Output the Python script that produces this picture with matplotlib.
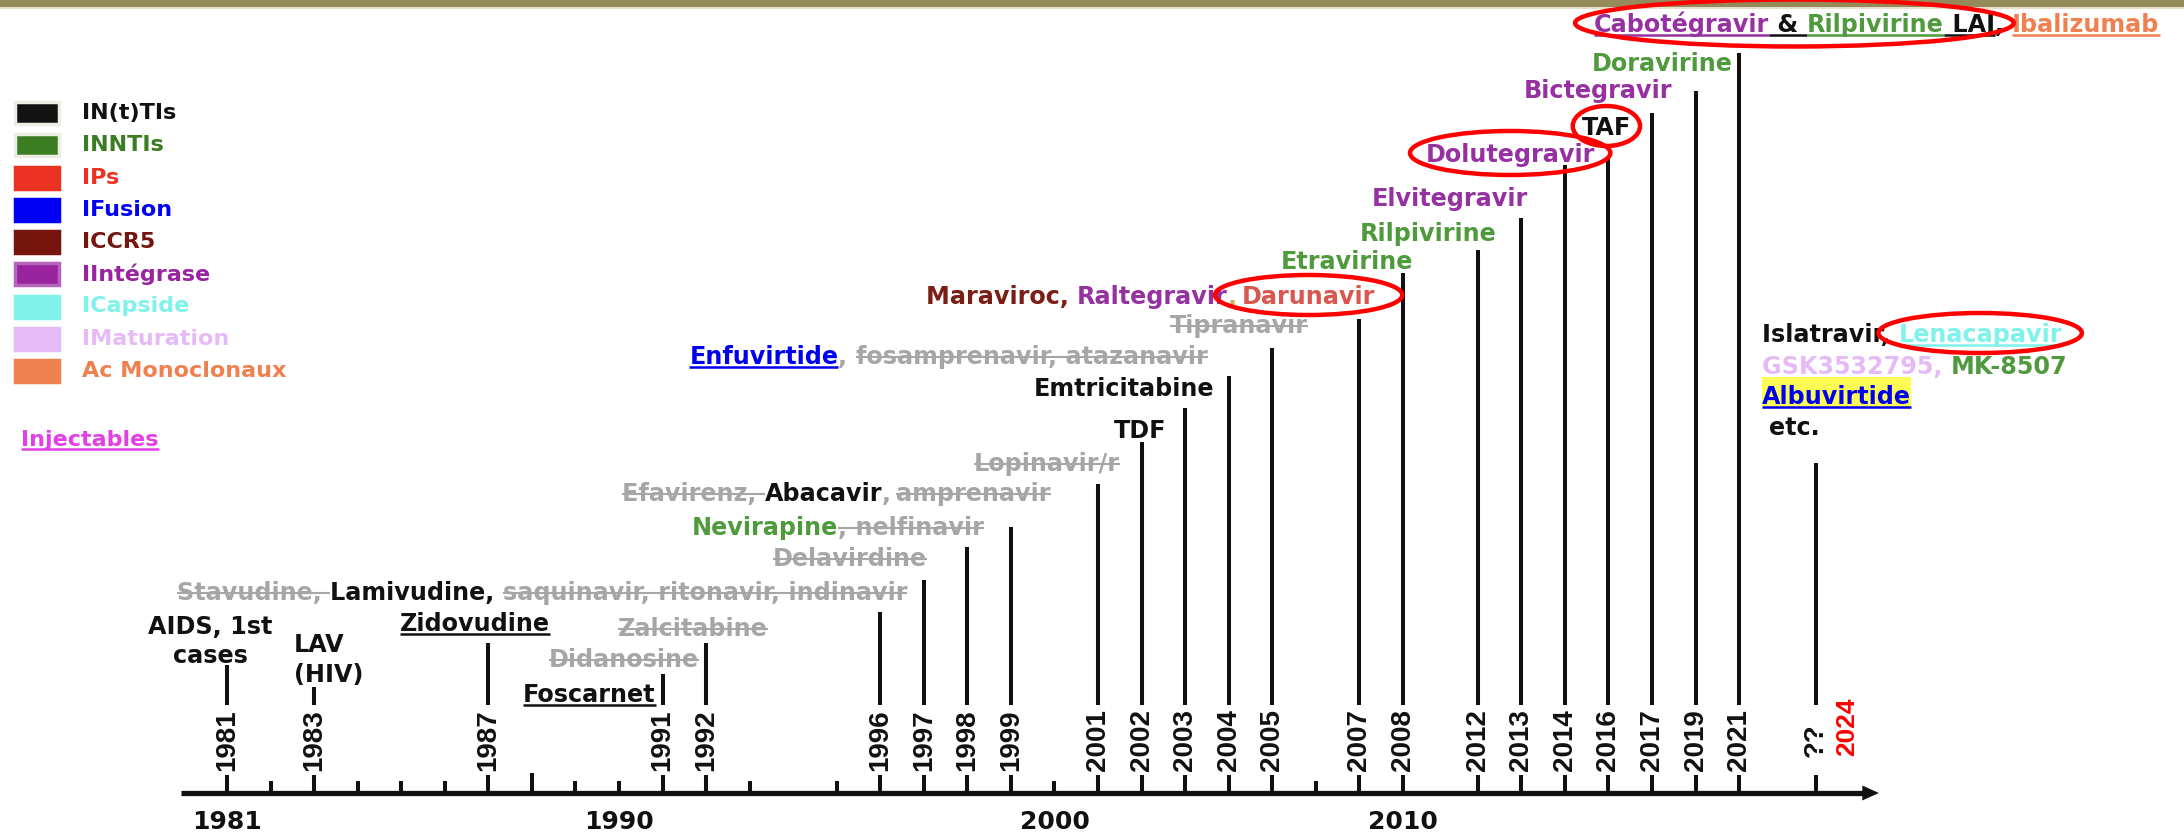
import matplotlib
matplotlib.use("Agg")
import matplotlib.pyplot as plt
from matplotlib.lines import Line2D
from matplotlib.patches import Ellipse, Rectangle, Polygon
from matplotlib.transforms import IdentityTransform

W, H = 2184, 836
MAIN = ["DejaVu Sans"]
ARIAL = ["Liberation Sans", "DejaVu Sans"]
LABEL_SIZE = 17.2

# colours
INK = "#111111"
GREY = "#A6A6A6"
GREEN = "#4F9A3D"
PURPLE = "#9631A1"
BLUE = "#0000F0"
DKRED = "#7A1E16"
CYAN = "#7FF3EA"
LILAC = "#E6BAF7"
ORANGE = "#EF8150"
OLIVE = "#C9B458"
SALMON = "#D9574E"

# legend
legend_labels = ["IN(t)TIs", "INNTIs", "IPs", "IFusion", "ICCR5", "IIntégrase",
                 "ICapside", "IMaturation", "Ac Monoclonaux"]
legend_colors = ["#121212", "#3A7D22", "#EA3323", "#0000F5", "#76140E", "#9A23A0",
                 "#7FF3EA", "#E6BAF7", "#EF8150"]
legend_text_colors = [INK, "#3A7D22", "#EA3323", "#0000F5", "#76140E", "#9A23A0",
                      "#7FF3EA", "#E6BAF7", "#EF8150"]
legend_edges = ["#EEEDE5", "#EEEDE5", None, None, None, "#B565BC", None, None, None]

# timeline events
event_years = ["1981", "1983", "1987", "1991", "1992", "1996", "1997", "1998", "1999",
               "2001", "2002", "2003", "2004", "2005", "2007", "2008", "2012", "2013",
               "2014", "2016", "2017", "2019", "2021", "??"]
stem_height = [128, 106, 150, 119, 150, 181, 213, 246, 266, 309, 351, 385, 417, 445,
               474, 520, 543, 575, 628, 636, 680, 702, 740, 330]
minor_years = [1982, 1984, 1985, 1986, 1988, 1989, 1990, 1993, 1995, 2000, 2006]
decade_text = ["1981", "1990", "2000", "2010"]
decade_year = [1981, 1990, 2000, 2008]

# label lines: (segments, alignment, dx, dy) ; segment = (text, colour, style)
labels = {
    "1981": [([("AIDS, 1st", INK, "")], "center", -17, -40),
             ([("cases", INK, "")], "center", -17, -11)],
    "1983": [([("LAV", INK, "")], "left", -20, -44),
             ([("(HIV)", INK, "")], "left", -20, -14)],
    "1987": [([("Zidovudine", INK, "u")], "center", -13, -21)],
    "1991": [([("Foscarnet", INK, "u")], "right", -7, 19)],
    "1992": [([("Didanosine", GREY, "s")], "right", -7, 15),
             ([("Zalcitabine", GREY, "s")], "center", -13, -16)],
    "1996": [([("Stavudine, ", GREY, "s"), ("Lamivudine, ", INK, ""),
               ("saquinavir, ritonavir, indinavir", GREY, "s")], "right", 27, -21)],
    "1997": [([("Delavirdine", GREY, "s")], "right", 3, -23)],
    "1998": [([("Nevirapine", GREEN, ""), (", nelfinavir", GREY, "s")], "right", 17, -21)],
    "1999": [([("Efavirenz, ", GREY, "s"), ("Abacavir", INK, ""), (", ", GREY, ""),
               ("amprenavir", GREY, "s")], "right", 40, -35)],
    "2001": [([("Lopinavir/r", GREY, "s")], "right", 22, -22)],
    "2002": [([("TDF", INK, "")], "center", -1, -13)],
    "2003": [([("Emtricitabine", INK, "")], "right", 29, -21)],
    "2004": [([("Enfuvirtide", BLUE, "u"), (", ", GREY, ""),
               ("fosamprenavir, atazanavir", GREY, "s")], "right", -21, -21)],
    "2005": [([("Tipranavir", GREY, "s")], "right", 36, -24)],
    "2007": [([("Maraviroc, ", DKRED, ""), ("Raltegravir", PURPLE, ""), (", ", OLIVE, ""),
               ("Darunavir", SALMON, "")], "right", 16, -24)],
    "2008": [([("Etravirine", GREEN, "")], "right", 10, -13)],
    "2012": [([("Rilpivirine", GREEN, "")], "right", 19, -18)],
    "2013": [([("Elvitegravir", PURPLE, "")], "right", 7, -21)],
    "2014": [([("Dolutegravir", PURPLE, "")], "right", 30, -12)],
    "2016": [([("TAF", INK, "")], "center", -2, -31)],
    "2017": [([("Bictegravir", PURPLE, "")], "right", 20, -24)],
    "2019": [([("Doravirine", GREEN, "")], "right", 37, -29)],
    "2021": [([("Cabotégravir", PURPLE, "u"), (" & ", INK, "u"), ("Rilpivirine", GREEN, "u"),
               (" LAI", INK, "u"), (", ", INK, ""), ("Ibalizumab", ORANGE, "u")],
              "left", -145, -30)],
    "??": [([("Islatravir, ", INK, ""), ("Lenacapavir", CYAN, "u")], "left", -54, -130),
           ([("GSK3532795, ", LILAC, ""), ("MK-8507", GREEN, "")], "left", -54, -98),
           ([("Albuvirtide", BLUE, "uh")], "left", -54, -68),
           ([("etc.", INK, "")], "left", -47, -37)],
}

# red circles: (event, line, first segment, last segment, extra width, height)
circles = [("2007", 0, 3, 3, 54, 40), ("2014", 0, 0, 0, 31, 44), ("2016", 0, 0, 0, 18, 40),
           ("2021", 0, 0, 3, 38, 47), ("??", 0, 1, 1, 40, 40)]

# positions on the drawn axis: true years up to 2008, one slot per event afterwards
stem_pos = []
slot = 0
for y in event_years:
    if y != "??" and int(y) <= 2008:
        stem_pos.append(float(y))
    else:
        slot += 1
        stem_pos.append(2008.72 + slot + (0.77 if y == "??" else 0))

fig = plt.figure(figsize=(W / 100, H / 100), dpi=100)
ax = fig.add_axes([0, 0, 1, 1])
ax.axis("off")
px_per_year = 43.55
x0 = 1981 - 227 / px_per_year
ax.set_xlim(x0, x0 + W / px_per_year)
ax.set_ylim(-(H - 793), 793)

# top band
ax.axhspan(786, 793, color="#948A5A", lw=0)
ax.axhspan(784, 786, color="#E4E0CC", lw=0)

# axis + arrow
ax.plot([1979.94, 2018.6], [0, 0], color=INK, lw=3.8, solid_capstyle="butt")
ax.add_patch(Polygon([(2018.55, -7.5), (2018.93, 0), (2018.55, 7.5)], closed=True,
                     color=INK, lw=0))
ax.vlines(stem_pos, 0, 18, color=INK, lw=2.9)
ax.vlines(minor_years, 0, [20 if y == 1988 else 12 for y in minor_years], color=INK, lw=2.9)
ax.vlines(stem_pos, 88, stem_height, color=INK, lw=2.9)
for p, lab in zip(stem_pos, event_years):
    ax.text(p, 53, lab, rotation=90, ha="center", va="center", fontsize=20,
            fontweight="bold", fontstretch="condensed", family=ARIAL, color=INK)
ax.text(stem_pos[-1] + 0.72, 66, "2024", rotation=90, ha="center", va="center",
        fontsize=19, fontweight="bold", family=ARIAL, color="#FF0000")
for p, lab in zip(decade_year, decade_text):
    ax.text(p, -29, lab, ha="center", va="center", fontsize=18, fontweight="bold",
            family=MAIN, color=INK)

rend = fig.canvas.get_renderer()
ID = IdentityTransform()


def text_w(s, size, family=MAIN):
    ws = []
    for probe in ("|" + s + "|", "||"):
        t = fig.text(0, 0, probe, fontsize=size, fontweight="bold", family=family, transform=ID)
        ws.append(t.get_window_extent(rend).width)
        t.remove()
    return ws[0] - ws[1]


def hline(xa, xb, y, color, lw):
    fig.add_artist(Line2D([xa, xb], [y, y], color=color, lw=lw, transform=ID,
                          solid_capstyle="butt"))


def draw_line(x, yc, segments, ha, size=LABEL_SIZE):
    full = "".join(s for s, _, _ in segments)
    total = text_w(full, size)
    start = x - total if ha == "right" else (x - total / 2 if ha == "center" else x)
    em = size * 100 / 72
    base = yc - 0.365 * em
    spans = []
    pre = ""
    for s, c, st in segments:
        xs = start + text_w(pre, size) if pre else start
        xe = start + text_w(pre + s, size)
        fig.text(xs, base, s, color=c, fontsize=size, fontweight="bold", family=MAIN,
                 ha="left", va="baseline", transform=ID, zorder=3)
        if "h" in st:
            fig.add_artist(Rectangle((xs, base - 0.17 * em), xe - xs, 1.27 * em,
                                     color="#FCFC54", lw=0, transform=ID, zorder=1))
        if "u" in st:
            hline(xs, xe, base - 0.12 * em, c, 1.8)
        if "s" in st:
            hline(xs, xe, base + 0.30 * em, c, 1.5)
        spans.append((xs, xe, yc))
        pre += s
    return spans


placed = {}
for p, h, lab in zip(stem_pos, stem_height, event_years):
    sx, sy = ax.transData.transform((p, h))
    placed[lab] = [draw_line(sx + dx, sy - dy, segs, ha)
                   for segs, ha, dx, dy in labels.get(lab, [])]

for lab, li, a, b, extra, hgt in circles:
    spans = placed[lab][li]
    xa, xb, yc = spans[a][0], spans[b][1], spans[a][2]
    fig.add_artist(Ellipse(((xa + xb) / 2, yc), xb - xa + extra, hgt, fill=False,
                           ec="#FF0000", lw=3.2, transform=ID, zorder=4))

# legend
for i, (lab, col, tcol, edge) in enumerate(zip(legend_labels, legend_colors,
                                               legend_text_colors, legend_edges)):
    top = 102 + 32.25 * i
    fig.add_artist(Rectangle((15, H - top - 22), 44, 22, facecolor=col,
                             edgecolor=edge if edge else col, lw=2.5, transform=ID))
    fig.text(82, H - top - 11, lab, color=tcol, fontsize=16, fontweight="bold",
             family=MAIN, ha="left", va="center", transform=ID)

draw_line(21, H - 438, [("Injectables", "#E23FE6", "u")], "left", size=16)

fig.savefig("out.png", dpi=100)
